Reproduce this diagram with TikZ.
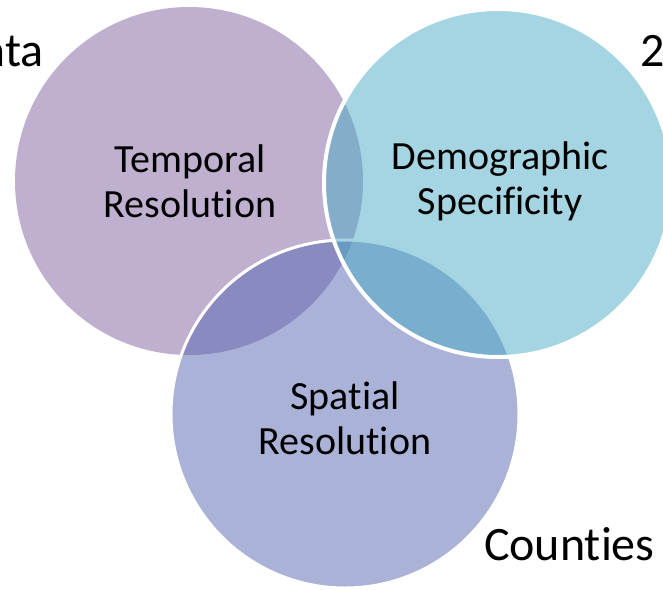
\documentclass[tikz,border=0pt]{standalone}
\usepackage{fontspec}
\setmainfont{Carlito}[RawFeature=-liga]
\definecolor{tempPurple}{HTML}{BFB0D0}
\definecolor{spatBlue}{HTML}{5565B1}
\definecolor{demoCyan}{HTML}{4BABC5}
\tikzset{
  venntext/.style={font=\fontsize{20}{22.5}\selectfont, align=center},
  sidetext/.style={font=\fontsize{24}{28}\selectfont},
  ring/.style={white, line width=2pt}
}
\begin{document}
\begin{tikzpicture}[x=0.5pt,y=-0.5pt]
\useasboundingbox (0,0) rectangle (663,589);
\clip (0,0) rectangle (663,589);

% Temporal
\fill[tempPurple] (189,181) circle [radius=87pt];

% Spatial
\fill[spatBlue, fill opacity=.5] (345,414) circle [radius=87pt];
\draw[ring, line width=1.5pt] (345,414) circle [radius=87pt];

% Demographic
\fill[demoCyan, fill opacity=.5] (498,183) circle [radius=87pt];
\draw[ring] (498,183) circle [radius=87pt];

% Labels
\node[venntext] (temporal) at (190,181) {Temporal\\Resolution};
\node[venntext] (demographic) at (500,181) {Demographic\\Specificity};
\node[venntext] (spatial) at (345,418) {Spatial\\Resolution};

\node[sidetext, anchor=base west] (counties) at (477,560) {Counties};
\node[sidetext, anchor=base east, inner sep=0pt] (ata) at (44,66) {ata};
\node[sidetext, anchor=base west, inner sep=0pt] (two) at (640,66) {2};

\end{tikzpicture}
\end{document}
